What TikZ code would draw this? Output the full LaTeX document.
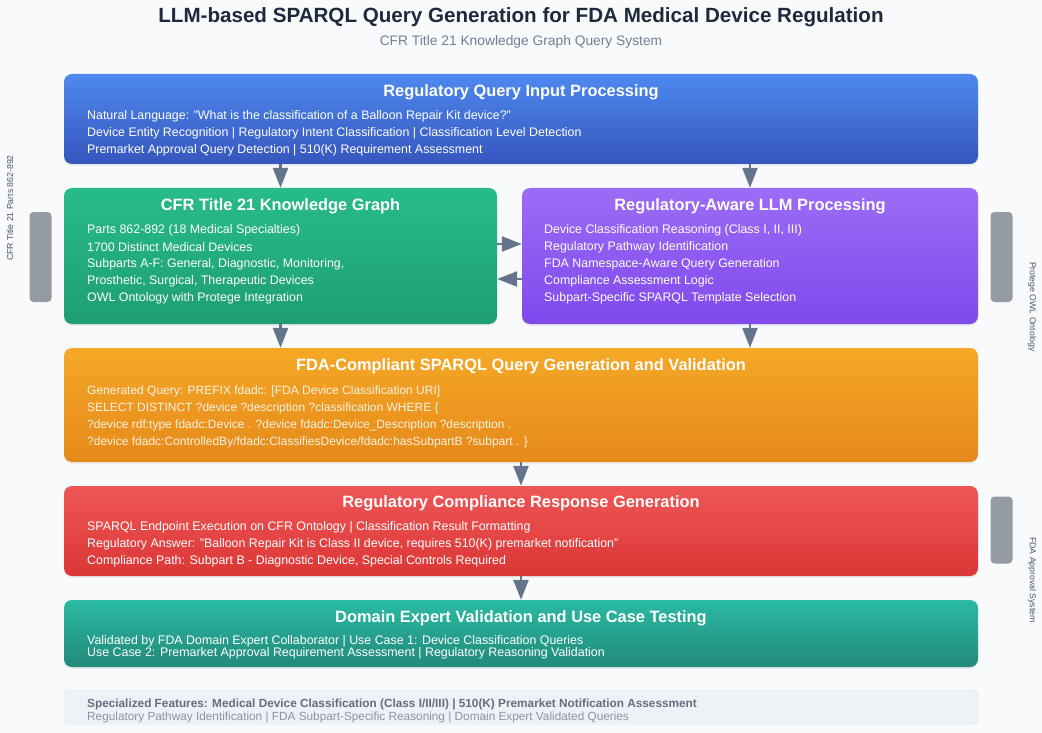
\documentclass[tikz,border=0pt]{standalone}
\usepackage{fontspec}
\setmainfont{Liberation Sans}
\usetikzlibrary{arrows.meta,shadows}
\definecolor{bg}{HTML}{F8FAFC}
\definecolor{titlec}{HTML}{1E293B}
\definecolor{subc}{HTML}{718096}
\definecolor{arrc}{HTML}{64748B}
\definecolor{barc}{HTML}{959BA3}
\definecolor{sidetxt}{HTML}{4A5568}
\definecolor{blueA}{HTML}{4E89EE}
\definecolor{blueB}{HTML}{3656BE}
\definecolor{greenA}{HTML}{27BC88}
\definecolor{greenB}{HTML}{1E9E72}
\definecolor{purA}{HTML}{9C6CF6}
\definecolor{purB}{HTML}{8049EC}
\definecolor{oraA}{HTML}{F5A826}
\definecolor{oraB}{HTML}{E5891A}
\definecolor{redA}{HTML}{EE5656}
\definecolor{redB}{HTML}{DC3636}
\definecolor{tealA}{HTML}{2ABAA4}
\definecolor{tealB}{HTML}{22897A}
\definecolor{featfill}{HTML}{EEF2F7}
\definecolor{featdraw}{HTML}{DDE3EA}
\definecolor{featA}{HTML}{646E7E}
\definecolor{featB}{HTML}{8A94A3}
\tikzset{
  box/.style={rounded corners=8pt, inner sep=0pt, shading angle=20,
    drop shadow={opacity=0.12, shadow xshift=0pt, shadow yshift=-2pt}},
  btitle/.style={text=white, font=\fontsize{16.4}{19}\selectfont\bfseries, inner sep=0pt, yshift=-1.5pt},
  ln/.style={text=white, anchor=west, inner sep=0pt, font=\fontsize{12.4}{14}\selectfont, yshift=-1.5pt},
  lnq/.style={text=white, text opacity=0.88, anchor=west, inner sep=0pt, font=\fontsize{12}{13}\selectfont, yshift=-1.5pt},
  arr/.style={draw=arrc, line width=2.5pt, -{Triangle[length=20pt,width=15pt]}},
  sidebar/.style={fill=barc, rounded corners=4pt, inner sep=0pt, minimum width=22pt},
  sidelabel/.style={text=sidetxt, inner sep=0pt, font=\fontsize{8.7}{10}\selectfont},
}
\begin{document}
\begin{tikzpicture}[x=1pt,y=-1pt]
\useasboundingbox (0,0) rectangle (1042,733);
\fill[bg] (0,0) rectangle (1042,733);

% titles
\node[text=titlec, font=\fontsize{20.6}{24}\selectfont\bfseries, inner sep=0pt] (title) at (521,17) {LLM-based SPARQL Query Generation for FDA Medical Device Regulation};
\node[text=subc, font=\fontsize{13.8}{16}\selectfont, inner sep=0pt] (subtitle) at (521,42) {CFR Title 21 Knowledge Graph Query System};

% boxes
\node[box, minimum width=914pt, minimum height=90pt, top color=blueA, bottom color=blueB] (in) at (521,119) {};
\node[box, minimum width=433pt, minimum height=136pt, top color=greenA, bottom color=greenB] (kg) at (280.5,256) {};
\node[box, minimum width=456pt, minimum height=136pt, top color=purA, bottom color=purB] (llm) at (750,256) {};
\node[box, minimum width=914pt, minimum height=114pt, top color=oraA, bottom color=oraB] (sp) at (521,405) {};
\node[box, minimum width=914pt, minimum height=90pt, top color=redA, bottom color=redB] (rc) at (521,531) {};
\node[box, minimum width=914pt, minimum height=67pt, top color=tealA, bottom color=tealB] (dv) at (521,633.5) {};
\node[draw=featdraw, fill=featfill, rounded corners=4pt, minimum width=914pt, minimum height=34pt, inner sep=0pt] (ft) at (521,707) {};

% side bars
\node[sidebar, minimum height=90pt] (lbar) at (40.5,257) {};
\node[sidebar, minimum height=90pt] (rbar1) at (1001.5,257) {};
\node[sidebar, minimum height=67pt] (rbar2) at (1001.5,530) {};
\node[sidelabel, rotate=90] (llab) at (10,208) {CFR Title 21 Parts 862-892};
\node[sidelabel, rotate=-90] (rlab1) at (1032,307) {Protege OWL Ontology};
\node[sidelabel, rotate=-90] (rlab2) at (1032,580) {FDA Approval System};

% input box text
\node[btitle] (inT) at (521,91) {Regulatory Query Input Processing};
\node[ln] (in1) at (87,115) {Natural Language: "What is the classification of a Balloon Repair Kit device?"};
\node[ln] (in2) at (87,132) {Device Entity Recognition | Regulatory Intent Classification | Classification Level Detection};
\node[ln] (in3) at (87,149) {Premarket Approval Query Detection | 510(K) Requirement Assessment};

% KG text
\node[btitle] (kgT) at (280.5,205) {CFR Title 21 Knowledge Graph};
\node[ln] (kg1) at (87,229) {Parts 862-892 (18 Medical Specialties)};
\node[ln] (kg2) at (87,246) {1700 Distinct Medical Devices};
\node[ln] (kg3) at (87,263) {Subparts A-F: General, Diagnostic, Monitoring,};
\node[ln] (kg4) at (87,280) {Prosthetic, Surgical, Therapeutic Devices};
\node[ln] (kg5) at (87,297) {OWL Ontology with Protege Integration};

% LLM text
\node[btitle] (llmT) at (750,205) {Regulatory-Aware LLM Processing};
\node[ln] (l1) at (544,229) {Device Classification Reasoning (Class I, II, III)};
\node[ln] (l2) at (544,246) {Regulatory Pathway Identification};
\node[ln] (l3) at (544,263) {FDA Namespace-Aware Query Generation};
\node[ln] (l4) at (544,280) {Compliance Assessment Logic};
\node[ln] (l5) at (544,297) {Subpart-Specific SPARQL Template Selection};

% SPARQL text
\node[btitle] (spT) at (521,365) {FDA-Compliant SPARQL Query Generation and Validation};
\node[lnq] (s1) at (87,390) {Generated Query: PREFIX fdadc: [FDA Device Classification URI]};
\node[lnq] (s2) at (87,407) {SELECT DISTINCT ?device ?description ?classification WHERE \{};
\node[lnq] (s3) at (87,424) {?device rdf:type fdadc:Device . ?device fdadc:Device\_Description ?description .};
\node[lnq] (s4) at (87,441) {?device fdadc:ControlledBy/fdadc:ClassifiesDevice/fdadc:hasSubpartB ?subpart . \}};

% Compliance text
\node[btitle] (rcT) at (521,502) {Regulatory Compliance Response Generation};
\node[ln] (r1) at (87,526) {SPARQL Endpoint Execution on CFR Ontology | Classification Result Formatting};
\node[ln] (r2) at (87,543) {Regulatory Answer: "Balloon Repair Kit is Class II device, requires 510(K) premarket notification"};
\node[ln] (r3) at (87,560) {Compliance Path: Subpart B - Diagnostic Device, Special Controls Required};

% Validation text
\node[btitle] (dvT) at (521,617) {Domain Expert Validation and Use Case Testing};
\node[ln] (d1) at (87,640) {Validated by FDA Domain Expert Collaborator | Use Case 1: Device Classification Queries};
\node[ln] (d2) at (87,652) {Use Case 2: Premarket Approval Requirement Assessment | Regulatory Reasoning Validation};

% Features text
\node[anchor=west, inner sep=0pt, text=featA, font=\fontsize{11.8}{13}\selectfont\bfseries] (f1) at (87,705) {Specialized Features: Medical Device Classification (Class I/II/III) | 510(K) Premarket Notification Assessment};
\node[anchor=west, inner sep=0pt, text=featB, font=\fontsize{11.8}{13}\selectfont] (f2) at (87,717) {Regulatory Pathway Identification | FDA Subpart-Specific Reasoning | Domain Expert Validated Queries};

% arrows
\draw[arr] (kg.north |- in.south) -- (kg.north);
\draw[arr] (llm.north |- in.south) -- (llm.north);
\draw[arr] (kg.south) -- (kg.south |- sp.north);
\draw[arr] (llm.south) -- (llm.south |- sp.north);
\draw[arr] (sp.south) -- (rc.north);
\draw[arr] (rc.south) -- (dv.north);
\coordinate (kgA) at ([yshift=12pt]kg.east);
\coordinate (kgB) at ([yshift=-23pt]kg.east);
\draw[arr] (kgA) -- (kgA -| llm.west);
\draw[arr] (kgB -| llm.west) -- (kgB);
\end{tikzpicture}
\end{document}
